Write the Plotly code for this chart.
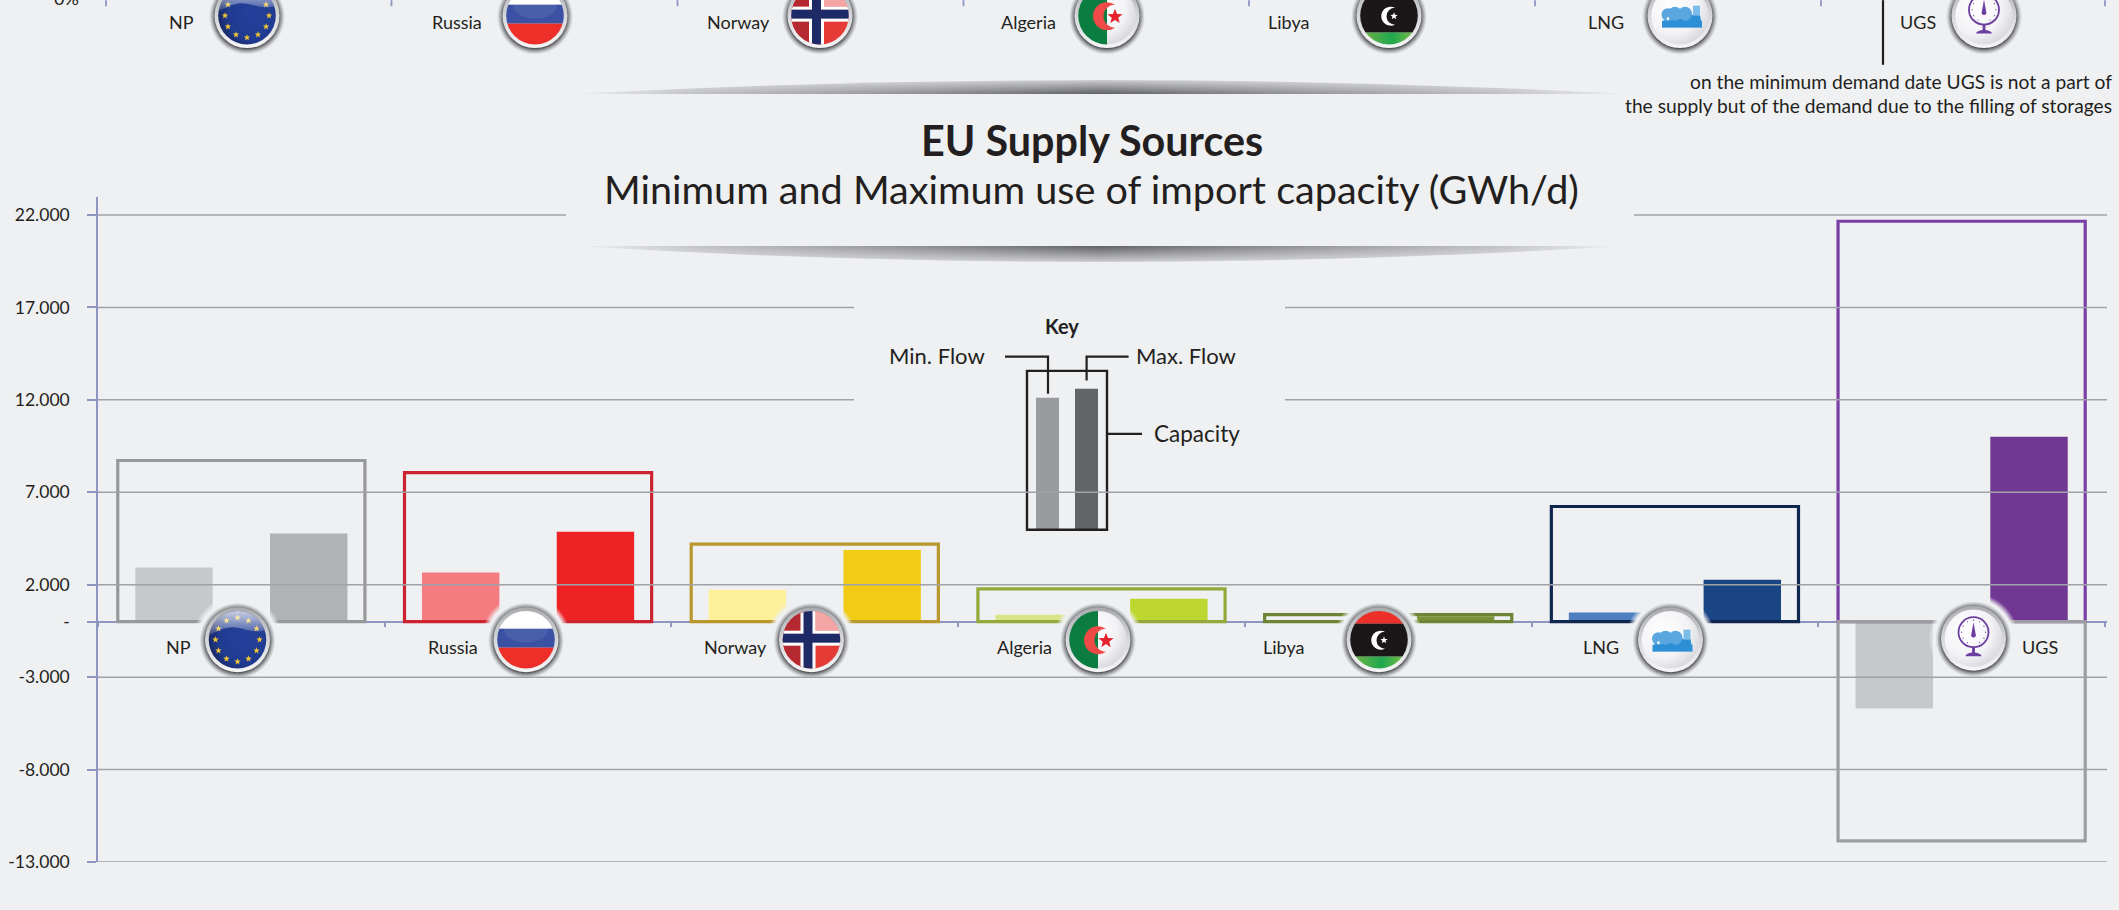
import base64, math
import plotly.graph_objects as go

# ---------- data ----------
categories = ["NP", "Russia", "Norway", "Algeria", "Libya", "LNG", "UGS"]
min_flow = [2930, 2660, 1730, 380, 20, 490, -4700]
max_flow = [4770, 4870, 3880, 1240, 300, 2270, 10000]
capacity = [8720, 8060, 4200, 1780, 380, 6230, 21660]
capacity_neg = [0, 0, 0, 0, 0, 0, -11860]
y_ticks = [22000, 17000, 12000, 7000, 2000, 0, -3000, -8000, -13000]
y_labels = ["22.000", "17.000", "12.000", "7.000", "2.000", "-", "-3.000", "-8.000", "-13.000"]
min_colors = ["#c7c8ca", "#f47c80", "#fdf09a", "#d9e585", "#7b9236", "#4f7fc0", "#c7c8ca"]
max_colors = ["#b1b2b5", "#ee2224", "#f1cb14", "#bed630", "#7b9236", "#1a4585", "#703893"]
cap_colors = ["#97989b", "#cb2330", "#b8972c", "#94a93a", "#6c8433", "#0f2650", "#7a3fa6"]
cap_neg_color = "#9d9ea1"

title_main = "EU Supply Sources"
title_sub = "Minimum and Maximum use of import capacity (GWh/d)"
note_lines = ["on the minimum demand date UGS is not a part of",
              "the supply but of the demand due to the filling of storages"]

# ---------- page geometry ----------
W, H = 2119, 910
L, R, T, B = 98, 2107, 197, 862.5
BG = "#eff0f2"
INK = "#231f20"
AXIS = "#8c96c0"
GRID = "#a0a2a7"
FONT = "Lato"


def px(x):
    return (x - L) / (R - L)


def py(y):
    return (B - y) / (B - T)


# ---------- badges (decoration only, no text) ----------
def star(cx, cy, r, fill):
    pts = []
    for i in range(10):
        a = -math.pi / 2 + i * math.pi / 5
        rr = r if i % 2 == 0 else r * 0.42
        pts.append(f"{cx + rr * math.cos(a):.2f},{cy + rr * math.sin(a):.2f}")
    return f'<polygon points="{" ".join(pts)}" fill="{fill}"/>'


GLOSS = ('<path d="M-29,-4 C-18,-10 -10,-14 0,-12 C10,-10 18,-6 29,-10 L29,-30 L-29,-30 Z" '
         'fill="url(#gl)"/>')


def eu():
    s = '<rect x="-30" y="-30" width="60" height="60" fill="url(#eub)"/>'
    for i in range(12):
        a = i * math.pi / 6
        s += star(22 * math.sin(a), -22 * math.cos(a), 3.4, "#f2c531")
    return s + GLOSS


def russia():
    return ('<rect x="-30" y="-30" width="60" height="20" fill="#ffffff"/>'
            '<rect x="-30" y="-11" width="60" height="19" fill="#3b51a3"/>'
            '<rect x="-30" y="8" width="60" height="22" fill="#ee2e28"/>'
            '<ellipse cx="0" cy="-10" rx="22" ry="13" fill="#ffffff" opacity="0.08"/>')


def norway():
    return ('<rect x="-30" y="-30" width="60" height="60" fill="#e63a37"/>'
            '<rect x="-30" y="-30" width="30" height="60" fill="#b42a30"/>'
            '<rect x="-11" y="-30" width="15" height="60" fill="#ffffff"/>'
            '<rect x="-30" y="-9" width="60" height="15" fill="#ffffff"/>'
            '<rect x="-8" y="-30" width="9" height="60" fill="#1e2a66"/>'
            '<rect x="-30" y="-6" width="60" height="9" fill="#1e2a66"/>'
            '<path d="M4,-30 L30,-30 L30,-9 L4,-9 Z" fill="#ffffff" opacity="0.55"/>')


def algeria():
    return ('<rect x="-30" y="-30" width="30" height="60" fill="#0b7d40"/>'
            '<rect x="0" y="-30" width="30" height="60" fill="url(#wh)"/>'
            '<path d="M8,-11 A14,14 0 1 0 8,12 A11,11 0 1 1 8,-11 Z" fill="#ef4a47"/>'
            + star(8, 1, 8, "#e62129"))


def libya():
    return ('<rect x="-30" y="-30" width="60" height="14" fill="#ec2f29"/>'
            '<rect x="-30" y="-16" width="60" height="33" fill="#1b1718"/>'
            '<rect x="-30" y="17" width="60" height="13" fill="url(#lg)"/>'
            '<path d="M6,-8 A9.5,9.5 0 1 0 6,9 A7.5,7.5 0 1 1 6,-8 Z" fill="#ffffff"/>'
            + star(5, 0.5, 3.8, "#ffffff"))


def lng():
    c = "#2d8fd5"
    return ('<rect x="-30" y="-30" width="60" height="60" fill="url(#wh)"/>'
            f'<rect x="-18" y="5" width="40" height="7" fill="{c}"/>'
            f'<path d="M-18,-1 L20,-1 L21,5 C14,8 8,3 2,6 C-4,8 -10,4 -15,6 Z" fill="{c}"/>'
            '<circle cx="-12" cy="-1" r="6.5" fill="#5aa7e0"/>'
            '<circle cx="-5" cy="-2" r="7" fill="#5aa7e0"/><circle cx="5" cy="-2" r="7" fill="#5aa7e0"/>'
            f'<rect x="13" y="-10" width="7" height="10" fill="#7bbde8"/>'
            '<circle cx="-12" cy="3" r="1.3" fill="#ffffff"/>')


def ugs():
    c = "#6b3fa0"
    s = ('<rect x="-30" y="-30" width="60" height="60" fill="url(#wh)"/>'
         f'<circle cx="0" cy="-6" r="15" fill="none" stroke="{c}" stroke-width="1.8"/>')
    for i in range(11):
        a = math.radians(-150 + i * 30)
        s += f'<circle cx="{12 * math.sin(a):.2f}" cy="{-6 - 12 * math.cos(a):.2f}" r="0.6" fill="{c}"/>'
    s += (f'<path d="M0,-16 L2.2,-4 A2.4,2.4 0 1 1 -2.2,-4 Z" fill="{c}"/>'
          f'<rect x="-1.4" y="9" width="2.8" height="6" fill="{c}"/>'
          f'<path d="M-8,18 C-7,13 7,13 8,18 Z" fill="{c}"/>')
    return s


def badge(inner):
    ring = "#d6d7da"
    svg = f'''<svg xmlns="http://www.w3.org/2000/svg" width="100" height="100" viewBox="-50 -50 100 100">
<defs>
<radialGradient id="halo" gradientUnits="userSpaceOnUse" cx="0" cy="0" r="45">
<stop offset="0.87" stop-color="{BG}" stop-opacity="1"/><stop offset="1" stop-color="{BG}" stop-opacity="0"/></radialGradient>
<radialGradient id="sh" gradientUnits="userSpaceOnUse" cx="0" cy="1" r="38">
<stop offset="0.84" stop-color="#4d4e52" stop-opacity="0.95"/><stop offset="1" stop-color="#8a8b8e" stop-opacity="0"/></radialGradient>
<linearGradient id="ring" x1="0" y1="0" x2="0" y2="1">
<stop offset="0" stop-color="#a9aaad"/><stop offset="0.5" stop-color="{ring}"/><stop offset="1" stop-color="#f6f6f7"/></linearGradient>
<linearGradient id="gl" x1="0" y1="0" x2="0" y2="1">
<stop offset="0" stop-color="#ffffff" stop-opacity="0.8"/><stop offset="1" stop-color="#ffffff" stop-opacity="0.12"/></linearGradient>
<radialGradient id="eub" cx="0.6" cy="0.5" r="0.65">
<stop offset="0" stop-color="#25419c"/><stop offset="0.65" stop-color="#1f3a8f"/><stop offset="1" stop-color="#14204f"/></radialGradient>
<radialGradient id="wh" gradientUnits="userSpaceOnUse" cx="-8" cy="-8" r="44">
<stop offset="0" stop-color="#ffffff"/><stop offset="0.6" stop-color="#f3f3f6"/><stop offset="1" stop-color="#cfd0d6"/></radialGradient>
<linearGradient id="lg" x1="0" y1="0" x2="1" y2="0">
<stop offset="0" stop-color="#7cb342"/><stop offset="0.55" stop-color="#1fa84f"/><stop offset="1" stop-color="#8cbf3f"/></linearGradient>
<clipPath id="c"><circle cx="0" cy="0" r="28.8"/></clipPath>
</defs>
<circle r="45" fill="url(#halo)"/>
<circle r="38" cy="1" fill="url(#sh)"/>
<circle r="32.5" fill="url(#ring)"/>
<g clip-path="url(#c)" >{inner}</g>
</svg>'''
    return "data:image/svg+xml;base64," + base64.b64encode(svg.encode()).decode()


def lens(w, h, top):
    path = (f"M0,{h} Q{w/2},{-h} {w},{h} Z" if top else f"M0,0 Q{w/2},{2*h} {w},0 Z")
    v = ('<stop offset="0" stop-color="#fff" stop-opacity="0.25"/><stop offset="1" stop-color="#fff" stop-opacity="1"/>'
         if top else
         '<stop offset="0" stop-color="#fff" stop-opacity="1"/><stop offset="1" stop-color="#fff" stop-opacity="0.25"/>')
    svg = f'''<svg xmlns="http://www.w3.org/2000/svg" width="{w}" height="{h}" viewBox="0 0 {w} {h}">
<defs><linearGradient id="h" x1="0" y1="0" x2="1" y2="0">
<stop offset="0" stop-color="#6a6b6e" stop-opacity="0"/><stop offset="0.12" stop-color="#6a6b6e" stop-opacity="0.35"/>
<stop offset="0.5" stop-color="#5f6063" stop-opacity="1"/>
<stop offset="0.88" stop-color="#6a6b6e" stop-opacity="0.35"/><stop offset="1" stop-color="#6a6b6e" stop-opacity="0"/></linearGradient>
<linearGradient id="v" x1="0" y1="0" x2="0" y2="1">{v}</linearGradient>
<mask id="m"><rect width="{w}" height="{h}" fill="url(#v)"/></mask></defs>
<path d="{path}" fill="url(#h)" mask="url(#m)"/></svg>'''
    return "data:image/svg+xml;base64," + base64.b64encode(svg.encode()).decode()


badge_art = [eu(), russia(), norway(), algeria(), libya(), lng(), ugs()]
bottom_badge_x = [237.5, 526, 811.5, 1098, 1379, 1670.5, 1973.5]
bottom_badge_y = [640, 640, 640, 640, 640, 640, 638.5]
top_badge_x = [247, 535, 820, 1107, 1389, 1680, 1984]
bottom_label_x = [178, 452.7, 735, 1024, 1283.5, 1601, 2040]
top_label_x = [181, 457, 738, 1028, 1288.5, 1606, 1918]
top_ticks_x = [106, 391.5, 677.5, 963.5, 1249, 1535, 1821, 2105]

images = []
for art, x, y in zip(badge_art, bottom_badge_x, bottom_badge_y):
    images.append(dict(source=badge(art), xref="paper", yref="paper", x=px(x), y=py(y), sizex=100 / (R - L),
                       sizey=100 / (B - T), xanchor="center", yanchor="middle", sizing="stretch", layer="above"))
for art, x in zip(badge_art, top_badge_x):
    images.append(dict(source=badge(art), xref="paper", yref="paper", x=px(x), y=py(15.5), sizex=100 / (R - L),
                       sizey=100 / (B - T), xanchor="center", yanchor="middle", sizing="stretch", layer="above"))
images.append(dict(source=lens(1068, 14, True), xref="paper", yref="paper", x=px(566), y=py(80), sizex=1068 / (R - L),
                   sizey=14 / (B - T), xanchor="left", yanchor="top", sizing="stretch", layer="above"))
images.append(dict(source=lens(1050, 16, False), xref="paper", yref="paper", x=px(575), y=py(246), sizex=1050 / (R - L),
                   sizey=16 / (B - T), xanchor="left", yanchor="top", sizing="stretch", layer="above"))

# ---------- traces ----------
centers = [i + 0.5 for i in range(len(categories))]
fig = go.Figure()
fig.add_trace(go.Bar(x=[c - 0.235 for c in centers], y=min_flow, width=0.27, marker=dict(color=min_colors, line_width=0),
                     name="Min. Flow", customdata=categories))
fig.add_trace(go.Bar(x=[c + 0.235 for c in centers], y=max_flow, width=0.27, marker=dict(color=max_colors, line_width=0),
                     name="Max. Flow", customdata=categories))
fig.add_trace(go.Bar(x=centers, y=capacity, width=0.862, name="Capacity", customdata=categories,
                     marker=dict(color="rgba(0,0,0,0)", line=dict(color=cap_colors, width=3.2))))
fig.add_trace(go.Bar(x=centers[-1:], y=capacity_neg[-1:], width=0.862, name="Capacity", customdata=categories[-1:],
                     marker=dict(color="rgba(0,0,0,0)", line=dict(color=cap_neg_color, width=3.2))))


# ---------- shapes ----------
def grid_shape(v):
    return dict(type="line", xref="paper", yref="y", x0=0, x1=1, y0=v, y1=v, layer="above",
                line=dict(color=GRID, width=1.5))


def rect(x0, y0, x1, y1, fill, line=None, lw=0):
    return dict(type="rect", xref="paper", yref="paper", x0=px(x0), x1=px(x1), y0=py(y0), y1=py(y1), layer="above",
                fillcolor=fill, line=dict(color=line or fill, width=lw))


def seg(pts, width=2.2, color=INK):
    d = "M" + " L".join(f"{px(x):.6f},{py(y):.6f}" for x, y in pts)
    return dict(type="path", xref="paper", yref="paper", path=d, layer="above", line=dict(color=color, width=width))


shapes = [grid_shape(v) for v in y_ticks if v > 7000]
shapes += [rect(566, 94, 1634, 246, BG), rect(854, 290, 1285, 420, BG)]
shapes += [rect(1036, 398, 1059, 530, "#9a9b9f"), rect(1075, 389, 1098, 530, "#636466"),
           rect(1027, 371, 1107, 530, "rgba(0,0,0,0)", INK, 2.4),
           seg([(1005, 356.7), (1048, 356.7), (1048, 394)]),
           seg([(1128.6, 356.7), (1086.6, 356.7), (1086.6, 380.7)]),
           seg([(1107, 434), (1142, 434)])]
shapes += [grid_shape(v) for v in y_ticks if v <= 7000 and v != 0]
shapes += [seg([(x, 0), (x, 6)], 1.8, AXIS) for x in top_ticks_x]
shapes += [seg([(1883, 0), (1883, 64.7)], 2.2)]


# ---------- text ----------
def txt(s, x, y, size, anchor="center", bold=False):
    return dict(text=f"<b>{s}</b>" if bold else s, xref="paper", yref="paper", x=px(x), y=py(y), showarrow=False,
                xanchor=anchor, yanchor="middle", font=dict(family=FONT, size=size, color=INK), borderpad=0, borderwidth=0)


ann = [txt(c, x, 647.5, 18) for c, x in zip(categories, bottom_label_x)]
ann += [txt(c, x, 22, 18) for c, x in zip(categories, top_label_x)]
ann += [txt("0%", 79, -2, 18, "right"),
        txt(note_lines[0], 2112, 81.5, 19.2, "right"), txt(note_lines[1], 2112, 105.5, 19.2, "right"),
        txt(title_main, 1092, 139.5, 41.3, bold=True), txt(title_sub, 1091, 188.5, 39.6),
        txt("Key", 1061.6, 326.5, 20, bold=True), txt("Min. Flow", 937, 356, 22),
        txt("Max. Flow", 1186, 356, 22), txt("Capacity", 1196.5, 434, 22.5)]

fig.update_layout(
    width=W, height=H, autosize=False,
    paper_bgcolor=BG, plot_bgcolor=BG, showlegend=False, barmode="overlay",
    margin=dict(l=L, r=W - R, t=T, b=H - B, pad=0, autoexpand=False),
    font=dict(family=FONT, color=INK, size=18),
    images=images, shapes=shapes, annotations=ann,
    xaxis=dict(range=[0, 7.007], tickmode="array", tickvals=list(range(8)), ticktext=[""] * 8, ticks="outside", ticklen=5,
               tickwidth=1.5, tickcolor=AXIS, showline=True, linecolor=AXIS, linewidth=1.6, showgrid=False,
               zeroline=False, anchor="free", position=13000 / 35973, layer="below traces"),
    yaxis=dict(range=[-13000, 22973], tickmode="array", tickvals=y_ticks, ticktext=y_labels, ticks="outside", ticklen=9,
               tickwidth=1.6, tickcolor=AXIS, showline=True, linecolor=AXIS, linewidth=1.6, showgrid=False,
               zeroline=False, ticklabelstandoff=14, tickfont=dict(family=FONT, size=17.5, color=INK), layer="below traces"),
)
fig.write_html("out.html", config=dict(displayModeBar=False),
               post_script="document.body.style.margin='0';document.body.style.overflow='hidden';"
                           "document.body.style.background='%s';" % BG)
